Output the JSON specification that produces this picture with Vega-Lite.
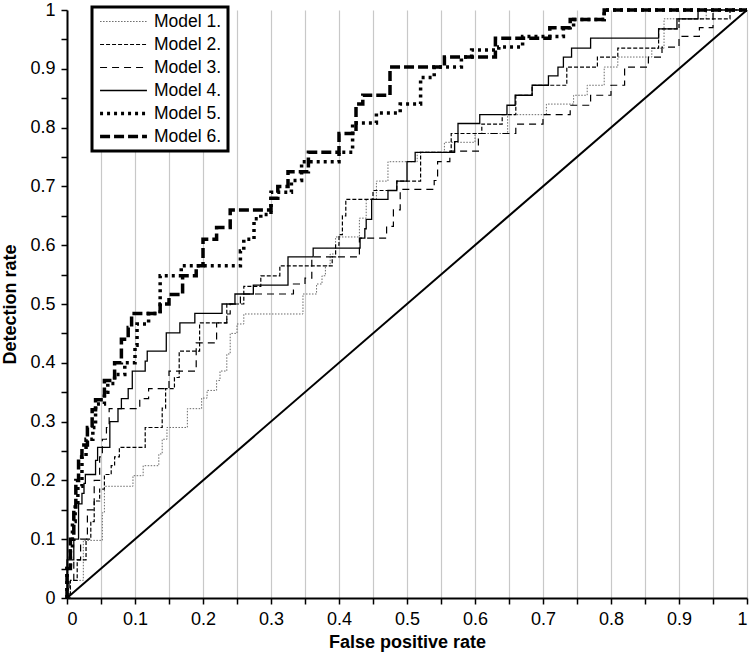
{
 "$schema": "https://vega.github.io/schema/vega-lite/v6.json",
 "width": 680, "height": 588,
 "autosize": {"type": "none"},
 "padding": {"left": 67, "top": 10, "right": 3, "bottom": 63},
 "background": "white",
 "config": {
  "font": "Liberation Sans",
  "view": {"stroke": null},
  "axis": {"domainColor": "black", "domainWidth": 2, "tickColor": "black", "tickWidth": 1.5, "tickSize": 6, "labelColor": "black", "labelFontSize": 18, "labelFont": "Liberation Sans", "titleFont": "Liberation Sans", "titleFontSize": 18, "titleFontWeight": "bold", "titleColor": "black", "labelOverlap": false, "labelPadding": 4}
 },
 "encoding": {
  "x": {"field": "x", "type": "quantitative", "scale": {"domain": [0, 1], "nice": false},
   "axis": {"title": "False positive rate", "values": [0,0.05,0.1,0.15,0.2,0.25,0.3,0.35,0.4,0.45,0.5,0.55,0.6,0.65,0.7,0.75,0.8,0.85,0.9,0.95,1], "labelExpr": "round(datum.value*20)%2==0 ? format(datum.value,'~g') : ''", "grid": true, "gridColor": "#c8c8c8", "gridWidth": 1.2, "labelPadding": 6, "titlePadding": 5}},
  "y": {"field": "y", "type": "quantitative", "scale": {"domain": [0, 1], "nice": false},
   "axis": {"title": "Detection rate", "values": [0,0.05,0.1,0.15,0.2,0.25,0.3,0.35,0.4,0.45,0.5,0.55,0.6,0.65,0.7,0.75,0.8,0.85,0.9,0.95,1], "labelExpr": "round(datum.value*20)%2==0 ? format(datum.value,'~g') : ''", "grid": false, "labelPadding": 6, "titlePadding": 10}}
 },
 "layer": [
  {
   "data": {"values": [
    {"m":"Model 1.","x":0,"y":0},{"m":"Model 1.","x":0.005,"y":0.03},{"m":"Model 1.","x":0.024,"y":0.098},{"m":"Model 1.","x":0.052,"y":0.145},{"m":"Model 1.","x":0.055,"y":0.19},{"m":"Model 1.","x":0.097,"y":0.208},{"m":"Model 1.","x":0.112,"y":0.225},{"m":"Model 1.","x":0.135,"y":0.245},{"m":"Model 1.","x":0.14,"y":0.27},{"m":"Model 1.","x":0.147,"y":0.29},{"m":"Model 1.","x":0.177,"y":0.322},{"m":"Model 1.","x":0.198,"y":0.34},{"m":"Model 1.","x":0.206,"y":0.353},{"m":"Model 1.","x":0.22,"y":0.37},{"m":"Model 1.","x":0.225,"y":0.386},{"m":"Model 1.","x":0.235,"y":0.415},{"m":"Model 1.","x":0.24,"y":0.45},{"m":"Model 1.","x":0.25,"y":0.466},{"m":"Model 1.","x":0.26,"y":0.483},{"m":"Model 1.","x":0.347,"y":0.517},{"m":"Model 1.","x":0.367,"y":0.534},{"m":"Model 1.","x":0.375,"y":0.548},{"m":"Model 1.","x":0.38,"y":0.565},{"m":"Model 1.","x":0.387,"y":0.585},{"m":"Model 1.","x":0.395,"y":0.614},{"m":"Model 1.","x":0.43,"y":0.646},{"m":"Model 1.","x":0.44,"y":0.678},{"m":"Model 1.","x":0.455,"y":0.709},{"m":"Model 1.","x":0.472,"y":0.742},{"m":"Model 1.","x":0.515,"y":0.758},{"m":"Model 1.","x":0.555,"y":0.775},{"m":"Model 1.","x":0.6,"y":0.79},{"m":"Model 1.","x":0.648,"y":0.822},{"m":"Model 1.","x":0.705,"y":0.84},{"m":"Model 1.","x":0.745,"y":0.855},{"m":"Model 1.","x":0.765,"y":0.872},{"m":"Model 1.","x":0.79,"y":0.903},{"m":"Model 1.","x":0.81,"y":0.92},{"m":"Model 1.","x":0.86,"y":0.935},{"m":"Model 1.","x":0.878,"y":0.985},{"m":"Model 1.","x":0.94,"y":1},{"m":"Model 1.","x":1,"y":1},
    {"m":"Model 2.","x":0,"y":0},{"m":"Model 2.","x":0.005,"y":0.03},{"m":"Model 2.","x":0.015,"y":0.065},{"m":"Model 2.","x":0.028,"y":0.1},{"m":"Model 2.","x":0.035,"y":0.13},{"m":"Model 2.","x":0.04,"y":0.165},{"m":"Model 2.","x":0.048,"y":0.185},{"m":"Model 2.","x":0.055,"y":0.21},{"m":"Model 2.","x":0.065,"y":0.225},{"m":"Model 2.","x":0.07,"y":0.24},{"m":"Model 2.","x":0.077,"y":0.256},{"m":"Model 2.","x":0.115,"y":0.29},{"m":"Model 2.","x":0.14,"y":0.323},{"m":"Model 2.","x":0.145,"y":0.356},{"m":"Model 2.","x":0.158,"y":0.375},{"m":"Model 2.","x":0.165,"y":0.42},{"m":"Model 2.","x":0.195,"y":0.468},{"m":"Model 2.","x":0.235,"y":0.5},{"m":"Model 2.","x":0.26,"y":0.53},{"m":"Model 2.","x":0.285,"y":0.548},{"m":"Model 2.","x":0.313,"y":0.565},{"m":"Model 2.","x":0.39,"y":0.58},{"m":"Model 2.","x":0.395,"y":0.6},{"m":"Model 2.","x":0.4,"y":0.618},{"m":"Model 2.","x":0.405,"y":0.65},{"m":"Model 2.","x":0.41,"y":0.678},{"m":"Model 2.","x":0.45,"y":0.693},{"m":"Model 2.","x":0.485,"y":0.709},{"m":"Model 2.","x":0.52,"y":0.758},{"m":"Model 2.","x":0.565,"y":0.79},{"m":"Model 2.","x":0.61,"y":0.806},{"m":"Model 2.","x":0.64,"y":0.822},{"m":"Model 2.","x":0.66,"y":0.855},{"m":"Model 2.","x":0.684,"y":0.872},{"m":"Model 2.","x":0.735,"y":0.903},{"m":"Model 2.","x":0.78,"y":0.92},{"m":"Model 2.","x":0.81,"y":0.935},{"m":"Model 2.","x":0.87,"y":0.968},{"m":"Model 2.","x":0.9,"y":0.985},{"m":"Model 2.","x":0.975,"y":1},{"m":"Model 2.","x":1,"y":1},
    {"m":"Model 3.","x":0,"y":0},{"m":"Model 3.","x":0.003,"y":0.03},{"m":"Model 3.","x":0.01,"y":0.065},{"m":"Model 3.","x":0.02,"y":0.1},{"m":"Model 3.","x":0.03,"y":0.15},{"m":"Model 3.","x":0.04,"y":0.2},{"m":"Model 3.","x":0.048,"y":0.24},{"m":"Model 3.","x":0.052,"y":0.27},{"m":"Model 3.","x":0.058,"y":0.29},{"m":"Model 3.","x":0.062,"y":0.322},{"m":"Model 3.","x":0.107,"y":0.339},{"m":"Model 3.","x":0.12,"y":0.356},{"m":"Model 3.","x":0.15,"y":0.386},{"m":"Model 3.","x":0.19,"y":0.434},{"m":"Model 3.","x":0.22,"y":0.468},{"m":"Model 3.","x":0.235,"y":0.483},{"m":"Model 3.","x":0.24,"y":0.5},{"m":"Model 3.","x":0.255,"y":0.517},{"m":"Model 3.","x":0.333,"y":0.534},{"m":"Model 3.","x":0.35,"y":0.544},{"m":"Model 3.","x":0.36,"y":0.58},{"m":"Model 3.","x":0.43,"y":0.612},{"m":"Model 3.","x":0.47,"y":0.632},{"m":"Model 3.","x":0.48,"y":0.66},{"m":"Model 3.","x":0.49,"y":0.695},{"m":"Model 3.","x":0.54,"y":0.71},{"m":"Model 3.","x":0.545,"y":0.742},{"m":"Model 3.","x":0.563,"y":0.76},{"m":"Model 3.","x":0.605,"y":0.79},{"m":"Model 3.","x":0.66,"y":0.806},{"m":"Model 3.","x":0.7,"y":0.822},{"m":"Model 3.","x":0.74,"y":0.838},{"m":"Model 3.","x":0.77,"y":0.855},{"m":"Model 3.","x":0.8,"y":0.872},{"m":"Model 3.","x":0.82,"y":0.903},{"m":"Model 3.","x":0.855,"y":0.92},{"m":"Model 3.","x":0.875,"y":0.937},{"m":"Model 3.","x":0.9,"y":0.955},{"m":"Model 3.","x":0.93,"y":0.97},{"m":"Model 3.","x":0.95,"y":1},{"m":"Model 3.","x":1,"y":1},
    {"m":"Model 4.","x":0,"y":0},{"m":"Model 4.","x":0,"y":0.065},{"m":"Model 4.","x":0.01,"y":0.1},{"m":"Model 4.","x":0.017,"y":0.16},{"m":"Model 4.","x":0.022,"y":0.178},{"m":"Model 4.","x":0.025,"y":0.195},{"m":"Model 4.","x":0.027,"y":0.21},{"m":"Model 4.","x":0.042,"y":0.234},{"m":"Model 4.","x":0.045,"y":0.256},{"m":"Model 4.","x":0.063,"y":0.3},{"m":"Model 4.","x":0.075,"y":0.322},{"m":"Model 4.","x":0.08,"y":0.339},{"m":"Model 4.","x":0.09,"y":0.356},{"m":"Model 4.","x":0.096,"y":0.386},{"m":"Model 4.","x":0.115,"y":0.403},{"m":"Model 4.","x":0.118,"y":0.42},{"m":"Model 4.","x":0.146,"y":0.451},{"m":"Model 4.","x":0.166,"y":0.468},{"m":"Model 4.","x":0.188,"y":0.484},{"m":"Model 4.","x":0.228,"y":0.5},{"m":"Model 4.","x":0.247,"y":0.517},{"m":"Model 4.","x":0.274,"y":0.532},{"m":"Model 4.","x":0.325,"y":0.58},{"m":"Model 4.","x":0.362,"y":0.595},{"m":"Model 4.","x":0.431,"y":0.612},{"m":"Model 4.","x":0.438,"y":0.628},{"m":"Model 4.","x":0.44,"y":0.644},{"m":"Model 4.","x":0.448,"y":0.678},{"m":"Model 4.","x":0.472,"y":0.693},{"m":"Model 4.","x":0.485,"y":0.709},{"m":"Model 4.","x":0.5,"y":0.742},{"m":"Model 4.","x":0.512,"y":0.758},{"m":"Model 4.","x":0.57,"y":0.776},{"m":"Model 4.","x":0.575,"y":0.807},{"m":"Model 4.","x":0.607,"y":0.822},{"m":"Model 4.","x":0.647,"y":0.838},{"m":"Model 4.","x":0.659,"y":0.855},{"m":"Model 4.","x":0.684,"y":0.872},{"m":"Model 4.","x":0.708,"y":0.888},{"m":"Model 4.","x":0.722,"y":0.903},{"m":"Model 4.","x":0.73,"y":0.92},{"m":"Model 4.","x":0.742,"y":0.935},{"m":"Model 4.","x":0.77,"y":0.952},{"m":"Model 4.","x":0.87,"y":0.968},{"m":"Model 4.","x":0.897,"y":0.985},{"m":"Model 4.","x":0.928,"y":1},{"m":"Model 4.","x":1,"y":1},
    {"m":"Model 5.","x":0,"y":0},{"m":"Model 5.","x":0,"y":0.05},{"m":"Model 5.","x":0.005,"y":0.08},{"m":"Model 5.","x":0.008,"y":0.13},{"m":"Model 5.","x":0.012,"y":0.16},{"m":"Model 5.","x":0.016,"y":0.19},{"m":"Model 5.","x":0.022,"y":0.24},{"m":"Model 5.","x":0.028,"y":0.27},{"m":"Model 5.","x":0.038,"y":0.29},{"m":"Model 5.","x":0.042,"y":0.33},{"m":"Model 5.","x":0.055,"y":0.35},{"m":"Model 5.","x":0.06,"y":0.365},{"m":"Model 5.","x":0.07,"y":0.38},{"m":"Model 5.","x":0.085,"y":0.4},{"m":"Model 5.","x":0.1,"y":0.43},{"m":"Model 5.","x":0.103,"y":0.466},{"m":"Model 5.","x":0.12,"y":0.484},{"m":"Model 5.","x":0.137,"y":0.548},{"m":"Model 5.","x":0.168,"y":0.565},{"m":"Model 5.","x":0.255,"y":0.59},{"m":"Model 5.","x":0.26,"y":0.61},{"m":"Model 5.","x":0.275,"y":0.645},{"m":"Model 5.","x":0.285,"y":0.652},{"m":"Model 5.","x":0.3,"y":0.69},{"m":"Model 5.","x":0.33,"y":0.71},{"m":"Model 5.","x":0.345,"y":0.742},{"m":"Model 5.","x":0.4,"y":0.758},{"m":"Model 5.","x":0.42,"y":0.808},{"m":"Model 5.","x":0.455,"y":0.825},{"m":"Model 5.","x":0.49,"y":0.84},{"m":"Model 5.","x":0.52,"y":0.885},{"m":"Model 5.","x":0.54,"y":0.903},{"m":"Model 5.","x":0.58,"y":0.92},{"m":"Model 5.","x":0.595,"y":0.932},{"m":"Model 5.","x":0.635,"y":0.937},{"m":"Model 5.","x":0.67,"y":0.955},{"m":"Model 5.","x":0.73,"y":0.97},{"m":"Model 5.","x":0.745,"y":0.984},{"m":"Model 5.","x":0.79,"y":1},{"m":"Model 5.","x":1,"y":1},
    {"m":"Model 6.","x":0,"y":0},{"m":"Model 6.","x":0,"y":0.05},{"m":"Model 6.","x":0.005,"y":0.1},{"m":"Model 6.","x":0.01,"y":0.15},{"m":"Model 6.","x":0.013,"y":0.2},{"m":"Model 6.","x":0.017,"y":0.24},{"m":"Model 6.","x":0.022,"y":0.26},{"m":"Model 6.","x":0.03,"y":0.29},{"m":"Model 6.","x":0.037,"y":0.32},{"m":"Model 6.","x":0.042,"y":0.337},{"m":"Model 6.","x":0.055,"y":0.37},{"m":"Model 6.","x":0.07,"y":0.4},{"m":"Model 6.","x":0.08,"y":0.44},{"m":"Model 6.","x":0.09,"y":0.46},{"m":"Model 6.","x":0.095,"y":0.484},{"m":"Model 6.","x":0.137,"y":0.5},{"m":"Model 6.","x":0.15,"y":0.516},{"m":"Model 6.","x":0.17,"y":0.548},{"m":"Model 6.","x":0.19,"y":0.565},{"m":"Model 6.","x":0.2,"y":0.61},{"m":"Model 6.","x":0.22,"y":0.63},{"m":"Model 6.","x":0.24,"y":0.66},{"m":"Model 6.","x":0.3,"y":0.68},{"m":"Model 6.","x":0.31,"y":0.7},{"m":"Model 6.","x":0.325,"y":0.725},{"m":"Model 6.","x":0.355,"y":0.758},{"m":"Model 6.","x":0.4,"y":0.79},{"m":"Model 6.","x":0.425,"y":0.84},{"m":"Model 6.","x":0.435,"y":0.855},{"m":"Model 6.","x":0.475,"y":0.903},{"m":"Model 6.","x":0.555,"y":0.92},{"m":"Model 6.","x":0.63,"y":0.952},{"m":"Model 6.","x":0.71,"y":0.97},{"m":"Model 6.","x":0.74,"y":0.984},{"m":"Model 6.","x":0.79,"y":1},{"m":"Model 6.","x":1,"y":1}
   ]},
   "mark": {"type": "line", "interpolate": "step-after", "strokeCap": "butt"},
   "encoding": {
    "order": [{"field": "x", "type": "quantitative"}, {"field": "y", "type": "quantitative"}],
    "color": {"field": "m", "type": "ordinal", "scale": {"domain": ["Model 1.","Model 2.","Model 3.","Model 4.","Model 5.","Model 6."], "range": ["#6a6a6a","#000000","#000000","#000000","#000000","#000000"]},
     "legend": {"title": null, "orient": "none", "legendX": 25, "legendY": -3, "symbolType": "stroke", "symbolSize": 2200, "labelFontSize": 17.5, "labelFont": "Liberation Sans", "labelColor": "black", "strokeColor": "black", "fillColor": "white", "padding": 6, "rowPadding": 5, "clipHeight": 17, "labelOffset": 5,
      "encode": {"legend": {"update": {"strokeWidth": {"value": 3}}}}}},
    "strokeDash": {"field": "m", "type": "ordinal", "scale": {"domain": ["Model 1.","Model 2.","Model 3.","Model 4.","Model 5.","Model 6."], "range": [[1.5,1.5],[4,2],[7,5],[1,0],[3,4],[10,4]]}, "legend": {"title": null}},
    "strokeWidth": {"field": "m", "type": "ordinal", "scale": {"type": "ordinal", "domain": ["Model 1.","Model 2.","Model 3.","Model 4.","Model 5.","Model 6."], "range": [1,1.2,1.2,1.3,3.5,3.5]}, "legend": {"title": null}}
   }
  },
  {
   "data": {"values": [{"x": 0, "y": 0}, {"x": 1, "y": 1}]},
   "mark": {"type": "line", "color": "black", "strokeWidth": 2}
  }
 ]
}
